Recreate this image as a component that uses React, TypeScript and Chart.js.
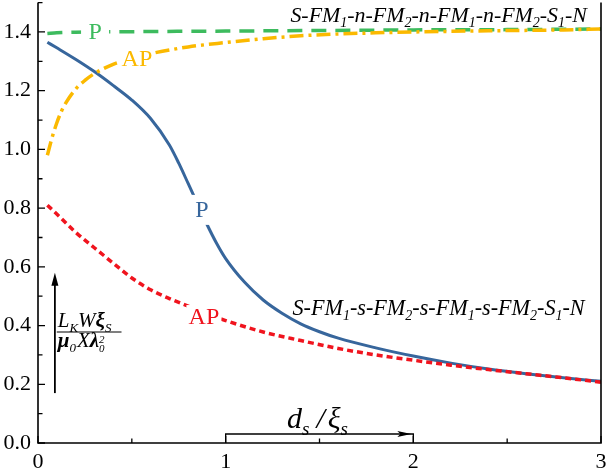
import { useEffect, useRef } from "react";
import { Chart, registerables, type ChartConfiguration, type Plugin } from "chart.js";

Chart.register(...registerables);

const SERIF = '"Liberation Serif", Tinos, "Times New Roman", "DejaVu Serif", serif';

// S-FM1-s-FM2-... stack, parallel (P)
const sParX = [0.05, 0.1, 0.2, 0.3, 0.4, 0.5, 0.6, 0.7, 0.75, 0.8, 0.85, 0.9, 0.95, 1.0, 1.1, 1.2, 1.3, 1.4, 1.5, 1.6, 1.8, 2.0, 2.2, 2.4, 2.6, 2.8, 3.0];
const sParY = [1.365, 1.346, 1.307, 1.265, 1.218, 1.168, 1.105, 1.015, 0.953, 0.884, 0.814, 0.745, 0.682, 0.628, 0.548, 0.487, 0.442, 0.406, 0.379, 0.357, 0.324, 0.296, 0.272, 0.252, 0.236, 0.222, 0.21];
// S-FM1-s-FM2-... stack, antiparallel (AP)
const sAntiX = [0.05, 0.1, 0.2, 0.3, 0.4, 0.5, 0.6, 0.7, 0.8, 0.9, 1.0, 1.2, 1.4, 1.6, 1.8, 2.0, 2.2, 2.4, 2.6, 2.8, 3.0];
const sAntiY = [0.81, 0.78, 0.718, 0.665, 0.613, 0.562, 0.522, 0.492, 0.466, 0.44, 0.417, 0.378, 0.349, 0.322, 0.3, 0.282, 0.265, 0.25, 0.236, 0.222, 0.207];
// S-FM1-n-FM2-... stack, parallel (P)
const nParX = [0.05, 0.1, 0.2, 0.5, 1.0, 1.5, 2.0, 2.5, 3.0];
const nParY = [1.395, 1.397, 1.399, 1.401, 1.403, 1.405, 1.407, 1.408, 1.41];
// S-FM1-n-FM2-... stack, antiparallel (AP)
const nAntiX = [0.05, 0.075, 0.1, 0.125, 0.15, 0.2, 0.25, 0.3, 0.4, 0.5, 0.6, 0.8, 1.0, 1.2, 1.4, 1.6, 1.8, 2.0, 2.4, 2.8, 3.0];
const nAntiY = [0.98, 1.04, 1.09, 1.13, 1.16, 1.205, 1.235, 1.258, 1.29, 1.31, 1.326, 1.349, 1.364, 1.377, 1.387, 1.393, 1.397, 1.4, 1.404, 1.407, 1.41];

const xTickValues = [0, 1, 2, 3];
const xMinorTicks = [0.5, 1.5, 2.5];
const yTickValues = [0, 0.2, 0.4, 0.6, 0.8, 1.0, 1.2, 1.4];
const yMinorTicks = [0.1, 0.3, 0.5, 0.7, 0.9, 1.1, 1.3, 1.5];

const BLUE = "#37669c";
const RED = "#f0141e";
const GREEN = "#3dbb5e";
const ORANGE = "#fbb900";

// in-plot curve labels (centre, in data units)
const curveLabels = [
  { text: "P", x: 0.304, y: 1.4, color: GREEN, w: 28, h: 24 },
  { text: "AP", x: 0.527, y: 1.308, color: ORANGE, w: 35, h: 24 },
  { text: "P", x: 0.874, y: 0.794, color: BLUE, w: 22, h: 30 },
  { text: "AP", x: 0.884, y: 0.429, color: RED, w: 35, h: 24 },
];

interface Run {
  t: string;
  k?: "sub" | "sup" | "stack";
  sup?: string;
  dx?: number;
  f?: number;
  b?: boolean;
}

const nStack: Run[] = [
  { t: "S-FM" }, { t: "1", k: "sub" }, { t: "-n-FM" }, { t: "2", k: "sub" }, { t: "-n-FM" }, { t: "1", k: "sub" },
  { t: "-n-FM" }, { t: "2", k: "sub" }, { t: "-S" }, { t: "1", k: "sub" }, { t: "-N" },
];
const sStack: Run[] = [
  { t: "S-FM" }, { t: "1", k: "sub" }, { t: "-s-FM" }, { t: "2", k: "sub" }, { t: "-s-FM" }, { t: "1", k: "sub" },
  { t: "-s-FM" }, { t: "2", k: "sub" }, { t: "-S" }, { t: "1", k: "sub" }, { t: "-N" },
];
const yTitleTop: Run[] = [{ t: "L" }, { t: "K", k: "sub" }, { t: "W" }, { t: "ξ", b: true }, { t: "S", k: "sub" }];
const yTitleBottom: Run[] = [{ t: "μ", b: true }, { t: "0", k: "sub" }, { t: "X", dx: 1 }, { t: "λ", b: true }, { t: "0", k: "stack", sup: "2", f: 0.5 }];
const xTitle: Run[] = [{ t: "d" }, { t: "s", k: "sub" }, { t: "/", dx: 7 }, { t: "ξ", dx: 3 }, { t: "s", k: "sub" }];

function runFont(r: Run, size: number) {
  const s = r.k ? Math.round(size * (r.f ?? 0.62)) : size;
  return `italic ${r.b ? "bold " : ""}${s}px ${SERIF}`;
}

function measureRuns(ctx: CanvasRenderingContext2D, runs: Run[], size: number) {
  let w = 0;
  for (const r of runs) {
    ctx.font = runFont(r, size);
    w += (r.dx ?? 0) + ctx.measureText(r.t).width;
  }
  return w;
}

function drawRuns(ctx: CanvasRenderingContext2D, runs: Run[], x: number, y: number, size: number) {
  let cx = x;
  ctx.textAlign = "left";
  ctx.textBaseline = "alphabetic";
  for (const r of runs) {
    cx += r.dx ?? 0;
    ctx.font = runFont(r, size);
    const w = ctx.measureText(r.t).width;
    if (!r.k) {
      ctx.fillText(r.t, cx, y);
      cx += w;
    } else if (r.k === "sub") {
      ctx.fillText(r.t, cx, y + size * 0.22);
      cx += w;
    } else if (r.k === "sup") {
      ctx.fillText(r.t, cx, y - size * 0.4);
      cx += w;
    } else {
      ctx.fillText(r.t, cx, y + size * 0.25);
      ctx.fillText(r.sup ?? "", cx, y - size * 0.2);
      cx += Math.max(w, ctx.measureText(r.sup ?? "").width);
    }
  }
}

// draw runs scaled so that they span x1..x2
function drawRunsFit(ctx: CanvasRenderingContext2D, runs: Run[], x1: number, x2: number, y: number) {
  const w = measureRuns(ctx, runs, 22);
  const size = (22 * (x2 - x1)) / w;
  drawRuns(ctx, runs, x1, y, size);
}

const pts = (xs: number[], ys: number[]) => xs.map((x, i) => ({ x, y: ys[i] }));

const decorPlugin: Plugin = {
  id: "decor",
  afterDatasetsDraw(chart) {
    const { ctx, scales } = chart;
    const sx = scales["x"];
    const sy = scales["y"];
    ctx.save();
    ctx.font = `24px ${SERIF}`;
    ctx.textAlign = "center";
    ctx.textBaseline = "middle";
    for (const l of curveLabels) {
      const px = sx.getPixelForValue(l.x);
      const py = sy.getPixelForValue(l.y);
      ctx.fillStyle = "#fff";
      ctx.fillRect(px - l.w / 2, py - l.h / 2, l.w, l.h);
      ctx.fillStyle = l.color;
      ctx.fillText(l.text, px, py + 1);
    }
    ctx.fillStyle = "#000";
    drawRunsFit(ctx, nStack, sx.getPixelForValue(1.345), sx.getPixelForValue(2.925), sy.getPixelForValue(1.434));
    drawRunsFit(ctx, sStack, sx.getPixelForValue(1.356), sx.getPixelForValue(2.915), sy.getPixelForValue(0.436));
    ctx.restore();
  },
  afterDraw(chart) {
    const { ctx, chartArea, scales } = chart;
    const sx = scales["x"];
    const sy = scales["y"];
    const { left, right, top, bottom } = chartArea;
    ctx.save();
    ctx.strokeStyle = "#000";
    ctx.fillStyle = "#000";
    ctx.lineWidth = 1.6;
    ctx.beginPath();
    ctx.moveTo(left, top);
    ctx.lineTo(left, bottom);
    ctx.lineTo(right, bottom);
    ctx.lineTo(right, top);
    ctx.stroke();

    ctx.lineWidth = 1.3;
    ctx.beginPath();
    for (const v of yTickValues) {
      const y = sy.getPixelForValue(v);
      ctx.moveTo(left, y);
      ctx.lineTo(left + 7, y);
    }
    for (const v of yMinorTicks) {
      const y = sy.getPixelForValue(v);
      ctx.moveTo(left, y);
      ctx.lineTo(left + 4.5, y);
    }
    for (const v of xTickValues) {
      const x = sx.getPixelForValue(v);
      ctx.moveTo(x, bottom);
      ctx.lineTo(x, bottom - 7);
    }
    for (const v of xMinorTicks) {
      const x = sx.getPixelForValue(v);
      ctx.moveTo(x, bottom);
      ctx.lineTo(x, bottom - 4.5);
    }
    ctx.stroke();

    // x-axis title with bracket arrow from 1 to 2
    const bx1 = sx.getPixelForValue(1);
    const bx2 = sx.getPixelForValue(2);
    const by = bottom - 9;
    ctx.beginPath();
    ctx.moveTo(bx1, bottom);
    ctx.lineTo(bx1, by);
    ctx.lineTo(bx2, by);
    ctx.lineTo(bx2, bottom);
    ctx.stroke();
    ctx.beginPath();
    ctx.moveTo(bx2 - 2, by);
    ctx.lineTo(bx2 - 16, by - 3);
    ctx.lineTo(bx2 - 13, by);
    ctx.lineTo(bx2 - 16, by + 3);
    ctx.closePath();
    ctx.fill();
    drawRuns(ctx, xTitle, sx.getPixelForValue(1.327), sy.getPixelForValue(0.051), 30);

    // y-axis title: up arrow and fraction
    const ax = sx.getPixelForValue(0.09);
    const aTail = sy.getPixelForValue(0.17);
    const aHead = sy.getPixelForValue(0.58);
    ctx.lineWidth = 1.8;
    ctx.beginPath();
    ctx.moveTo(ax, aTail);
    ctx.lineTo(ax, aHead + 8);
    ctx.stroke();
    ctx.beginPath();
    ctx.moveTo(ax, aHead);
    ctx.lineTo(ax - 3.5, aHead + 13);
    ctx.lineTo(ax + 3.5, aHead + 13);
    ctx.closePath();
    ctx.fill();
    const fx1 = sx.getPixelForValue(0.1);
    const fx2 = sx.getPixelForValue(0.445);
    const fy = sy.getPixelForValue(0.378);
    ctx.lineWidth = 1.2;
    ctx.beginPath();
    ctx.moveTo(fx1, fy);
    ctx.lineTo(fx2, fy);
    ctx.stroke();
    drawRuns(ctx, yTitleTop, fx1 + 1, fy - 5, 21);
    drawRuns(ctx, yTitleBottom, fx1 + 1, fy + 15, 21);
    ctx.restore();
  },
};

export default function App(): JSX.Element {
  const canvasRef = useRef<HTMLCanvasElement>(null);
  const chartRef = useRef<Chart | null>(null);

  useEffect(() => {
    document.body.style.margin = "0";
    const canvas = canvasRef.current;
    if (!canvas) return;

    const line = (data: { x: number; y: number }[], color: string, width: number, dash: number[]) => ({
      data,
      borderColor: color,
      borderWidth: width,
      borderDash: dash,
      borderCapStyle: "butt" as const,
      pointRadius: 0,
      cubicInterpolationMode: "monotone" as const,
      fill: false,
    });

    const config: ChartConfiguration<"line"> = {
      type: "line",
      data: {
        datasets: [
          line(pts(sAntiX, sAntiY), RED, 3.5, [6, 4]),
          line(pts(nAntiX, nAntiY), ORANGE, 3.5, [14, 5, 3, 5]),
          line(pts(nParX, nParY), GREEN, 3.5, [15, 9]),
          line(pts(sParX, sParY), BLUE, 3, []),
        ],
      },
      options: {
        responsive: true,
        maintainAspectRatio: false,
        animation: false,
        layout: { padding: { top: 2.6, right: 5, left: 0, bottom: 0 } },
        plugins: { legend: { display: false }, tooltip: { enabled: false } },
        scales: {
          x: {
            type: "linear",
            min: 0,
            max: 3,
            grid: { display: false, drawTicks: false },
            border: { display: false },
            ticks: { font: { family: SERIF, size: 22 }, color: "#000", padding: 6, maxRotation: 0 },
            afterBuildTicks: (s) => {
              s.ticks = xTickValues.map((value) => ({ value }));
            },
            afterFit: (s) => {
              s.height = 29;
              s.paddingLeft = 0;
              s.paddingRight = 0;
            },
          },
          y: {
            type: "linear",
            min: 0,
            max: 1.5,
            grid: { display: false, drawTicks: false },
            border: { display: false },
            ticks: {
              font: { family: SERIF, size: 22 },
              color: "#000",
              padding: 7,
              callback: (v) => Number(v).toFixed(1),
            },
            afterBuildTicks: (s) => {
              s.ticks = yTickValues.map((value) => ({ value }));
            },
            afterFit: (s) => {
              s.width = 38;
              s.paddingTop = 0;
              s.paddingBottom = 0;
            },
          },
        },
      },
      plugins: [decorPlugin],
    };

    Chart.getChart(canvas)?.destroy();
    chartRef.current = new Chart(canvas, config);

    return () => {
      chartRef.current?.destroy();
      chartRef.current = null;
    };
  }, []);

  return (
    <div style={{ width: 606, height: 472, position: "relative", background: "#fff" }}>
      <canvas ref={canvasRef} />
    </div>
  );
}
